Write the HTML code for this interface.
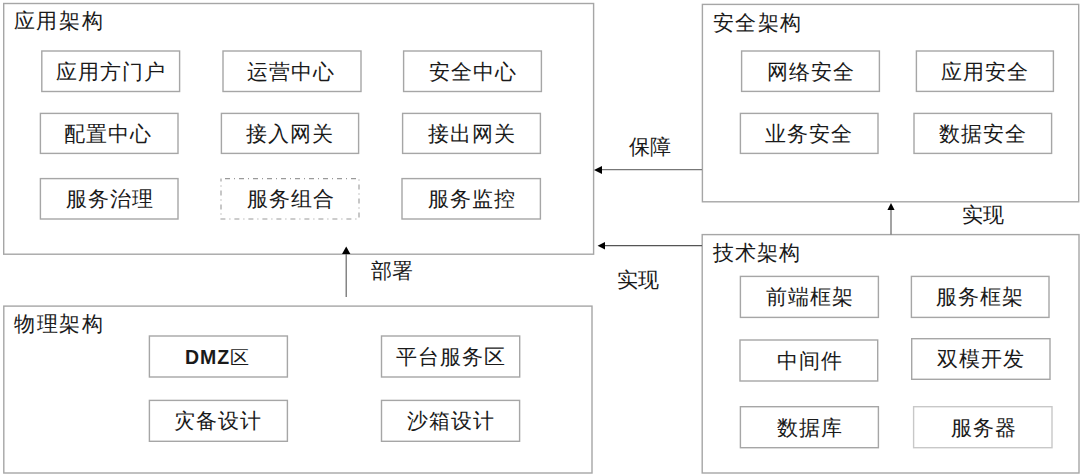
<!DOCTYPE html>
<html><head><meta charset="utf-8"><style>
html,body{margin:0;padding:0;background:#fff;width:1080px;height:474px;overflow:hidden}
body{position:relative;font-family:"Liberation Sans",sans-serif;color:#1a1a1a}
svg{position:absolute;left:0;top:0}
.bx{position:absolute;display:flex;align-items:center;justify-content:center;font-size:21px;letter-spacing:1px;line-height:1;text-indent:1px}
.tt,.lb{position:absolute;font-size:21px;line-height:1;white-space:nowrap}
.tt{letter-spacing:1.6px}
.en{font-weight:bold;letter-spacing:1px;font-size:19.5px;position:relative;top:1px}
</style></head><body>
<svg width="1080" height="474" viewBox="0 0 1080 474">
<rect x="3.7" y="3.5" width="589.9" height="250.7" fill="none" stroke="#a6a6a6" stroke-width="1.4"/>
<rect x="702.4" y="4.4" width="376.3" height="197.4" fill="none" stroke="#a6a6a6" stroke-width="1.4"/>
<rect x="702.2" y="234.6" width="376.8" height="238.4" fill="none" stroke="#a6a6a6" stroke-width="1.4"/>
<rect x="3.8" y="306.1" width="588.2" height="166.9" fill="none" stroke="#a6a6a6" stroke-width="1.4"/>
<rect x="41.8" y="51" width="137.8" height="40.5" fill="none" stroke="#a6a6a6" stroke-width="1.4"/>
<rect x="223" y="51" width="138.0" height="40.5" fill="none" stroke="#a6a6a6" stroke-width="1.4"/>
<rect x="403.6" y="51" width="137.8" height="40.5" fill="none" stroke="#a6a6a6" stroke-width="1.4"/>
<rect x="40.4" y="113.4" width="137.6" height="40.0" fill="none" stroke="#a6a6a6" stroke-width="1.4"/>
<rect x="221.4" y="113.4" width="137.2" height="40.0" fill="none" stroke="#a6a6a6" stroke-width="1.4"/>
<rect x="402.6" y="113.4" width="137.8" height="40.0" fill="none" stroke="#a6a6a6" stroke-width="1.4"/>
<rect x="40.4" y="178.6" width="137.6" height="40.4" fill="none" stroke="#a6a6a6" stroke-width="1.4"/>
<rect x="221" y="178.6" width="138.0" height="40.4" fill="none" stroke="#9a9a9a" stroke-width="1.1" stroke-dasharray="5 4 1 4" stroke-dashoffset="10"/>
<rect x="402" y="178.6" width="138.4" height="40.4" fill="none" stroke="#a6a6a6" stroke-width="1.4"/>
<rect x="741.6" y="51" width="137.8" height="40.4" fill="none" stroke="#a6a6a6" stroke-width="1.4"/>
<rect x="916.4" y="51" width="137.0" height="40.4" fill="none" stroke="#a6a6a6" stroke-width="1.4"/>
<rect x="740.4" y="113.4" width="137.6" height="40.0" fill="none" stroke="#a6a6a6" stroke-width="1.4"/>
<rect x="914" y="113.4" width="137.6" height="40.0" fill="none" stroke="#a6a6a6" stroke-width="1.4"/>
<rect x="740.4" y="276.4" width="138.0" height="41.0" fill="none" stroke="#a6a6a6" stroke-width="1.4"/>
<rect x="911.4" y="276.4" width="137.6" height="41.0" fill="none" stroke="#a6a6a6" stroke-width="1.4"/>
<rect x="740" y="340" width="137.7" height="41.0" fill="none" stroke="#a6a6a6" stroke-width="1.4"/>
<rect x="911.7" y="338.7" width="138.3" height="40.6" fill="none" stroke="#a6a6a6" stroke-width="1.4"/>
<rect x="740.4" y="406.7" width="138.0" height="41.0" fill="none" stroke="#a6a6a6" stroke-width="1.4"/>
<rect x="913.6" y="406.7" width="138.4" height="41.0" fill="none" stroke="#c8c8c8" stroke-width="1.4"/>
<rect x="149.4" y="336" width="138.0" height="41.0" fill="none" stroke="#a6a6a6" stroke-width="1.4"/>
<rect x="381.5" y="336" width="138.2" height="41.0" fill="none" stroke="#a6a6a6" stroke-width="1.4"/>
<rect x="149.4" y="400.4" width="138.0" height="40.9" fill="none" stroke="#a6a6a6" stroke-width="1.4"/>
<rect x="381.5" y="400.4" width="138.1" height="40.9" fill="none" stroke="#a6a6a6" stroke-width="1.4"/>
<line x1="602" y1="169.7" x2="702" y2="169.7" stroke="#777" stroke-width="1.2"/>
<polygon points="594,169.9 602,166 602,174" fill="#000"/>
<line x1="605" y1="245.6" x2="702" y2="245.6" stroke="#555" stroke-width="1.2"/>
<polygon points="597.6,245.8 605,242 605,249.6" fill="#000"/>
<line x1="346.2" y1="254" x2="346.2" y2="297" stroke="#666" stroke-width="1.2"/>
<polygon points="346.2,246.5 342,254 350.4,254" fill="#000"/>
<line x1="891" y1="210" x2="891" y2="234.5" stroke="#666" stroke-width="1.2"/>
<polygon points="891,203 887.4,210 894.6,210" fill="#000"/>
</svg>
<div class="bx" style="left:41.5px;top:51.0px;width:137.8px;height:40.5px">应用方门户</div>
<div class="bx" style="left:221.4px;top:51.0px;width:138.0px;height:40.5px">运营中心</div>
<div class="bx" style="left:403.4px;top:51.0px;width:137.8px;height:40.5px">安全中心</div>
<div class="bx" style="left:39.1px;top:113.4px;width:137.6px;height:40.0px">配置中心</div>
<div class="bx" style="left:221.4px;top:113.4px;width:137.2px;height:40.0px">接入网关</div>
<div class="bx" style="left:402.6px;top:113.4px;width:137.8px;height:40.0px">接出网关</div>
<div class="bx" style="left:40.4px;top:178.6px;width:137.6px;height:40.4px">服务治理</div>
<div class="bx" style="left:221.0px;top:178.6px;width:138.0px;height:40.4px">服务组合</div>
<div class="bx" style="left:402.0px;top:178.6px;width:138.4px;height:40.4px">服务监控</div>
<div class="bx" style="left:741.4px;top:51.0px;width:137.8px;height:40.4px">网络安全</div>
<div class="bx" style="left:916.2px;top:51.0px;width:137.0px;height:40.4px">应用安全</div>
<div class="bx" style="left:740.2px;top:113.4px;width:137.6px;height:40.0px">业务安全</div>
<div class="bx" style="left:914.0px;top:113.4px;width:137.6px;height:40.0px">数据安全</div>
<div class="bx" style="left:740.9px;top:276.4px;width:138.0px;height:41.0px">前端框架</div>
<div class="bx" style="left:911.1px;top:276.4px;width:137.6px;height:41.0px">服务框架</div>
<div class="bx" style="left:740.5px;top:340.0px;width:137.7px;height:41.0px">中间件</div>
<div class="bx" style="left:911.7px;top:338.7px;width:138.3px;height:40.6px">双模开发</div>
<div class="bx" style="left:740.6px;top:406.7px;width:138.0px;height:41.0px">数据库</div>
<div class="bx" style="left:914.1px;top:406.7px;width:138.4px;height:41.0px">服务器</div>
<div class="bx" style="left:147.6px;top:336.0px;width:138.0px;height:41.0px"><b class="en">DM<span style="letter-spacing:0">Z</span></b><span style="font-size:19px;letter-spacing:0;position:relative;top:0.5px">区</span></div>
<div class="bx" style="left:381.5px;top:336.0px;width:138.2px;height:41.0px">平台服务区</div>
<div class="bx" style="left:148.7px;top:400.4px;width:138.0px;height:40.9px">灾备设计</div>
<div class="bx" style="left:381.0px;top:400.4px;width:138.1px;height:40.9px">沙箱设计</div>
<div class="tt" style="left:13.8px;top:9.8px">应用架构</div>
<div class="tt" style="left:712.6px;top:11.6px">安全架构</div>
<div class="tt" style="left:713.0px;top:241.6px;letter-spacing:1px">技术架构</div>
<div class="tt" style="left:14.0px;top:313.0px">物理架构</div>
<div class="lb" style="left:629.2px;top:136.3px">保障</div>
<div class="lb" style="left:617.4px;top:268.5px">实现</div>
<div class="lb" style="left:370.5px;top:260.0px">部署</div>
<div class="lb" style="left:962.0px;top:203.5px">实现</div>
</body></html>
